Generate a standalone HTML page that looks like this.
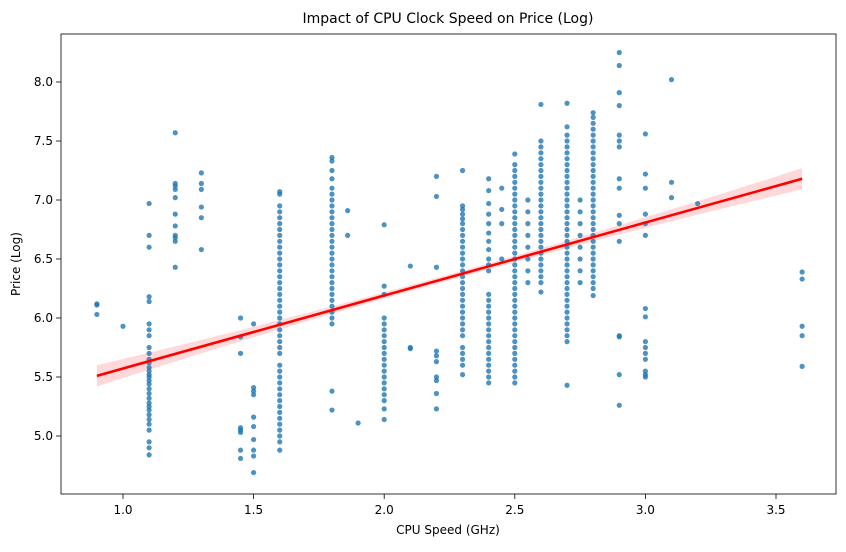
<!DOCTYPE html>
<html><head><meta charset="utf-8"><style>
body{margin:0;background:#fff;font-family:"Liberation Sans","DejaVu Sans",sans-serif}
svg text{font-family:"DejaVu Sans","Liberation Sans",sans-serif;fill:#000}
</style></head><body>
<svg id="chart" width="846" height="547" viewBox="0 0 846 547">
<text x="448" y="23" font-size="14" text-anchor="middle">Impact of CPU Clock Speed on Price (Log)</text>
<g id="band"></g><g id="pts"></g><g id="line"></g>
<rect x="61" y="34" width="775" height="460" fill="none" stroke="#000" stroke-width="0.8"/>
<g id="axes"></g>
<text x="448" y="534" font-size="12" text-anchor="middle">CPU Speed (GHz)</text>
<text x="20" y="264" font-size="12" text-anchor="middle" transform="rotate(-90 20 264)">Price (Log)</text>
</svg>
<script>
const xTicks=[1.0,1.5,2.0,2.5,3.0,3.5];
const yTicks=[5.0,5.5,6.0,6.5,7.0,7.5,8.0];
const colX=[0.9,1.0,1.1,1.2,1.3,1.45,1.5,1.6,1.8,1.86,1.9,2.0,2.1,2.2,2.3,2.4,2.45,2.5,2.55,2.6,2.7,2.75,2.8,2.9,3.0,3.1,3.2,3.6];
const colY=[
[6.12,6.11,6.03],
[5.93],
[6.97,6.70,6.60,6.18,6.14,5.95,5.90,5.85,5.75,5.70,5.65,5.62,5.58,5.55,5.52,5.50,5.47,5.44,5.40,5.36,5.32,5.28,5.25,5.22,5.18,5.14,5.10,5.05,4.95,4.90,4.84],
[7.57,7.14,7.12,7.09,7.02,6.88,6.78,6.70,6.68,6.65,6.43],
[7.23,7.14,7.09,6.94,6.85,6.58],
[6.00,5.84,5.70,5.07,5.05,5.03,4.88,4.81],
[5.95,5.41,5.38,5.35,5.16,5.08,4.97,4.88,4.83,4.69],
[7.07,7.05,6.95,6.90,6.85,6.80,6.75,6.70,6.65,6.60,6.55,6.50,6.45,6.40,6.35,6.30,6.25,6.20,6.15,6.10,6.05,6.00,5.95,5.90,5.85,5.80,5.75,5.70,5.60,5.55,5.50,5.45,5.40,5.35,5.30,5.25,5.20,5.15,5.10,5.05,5.00,4.95,4.88],
[7.36,7.33,7.25,7.18,7.10,7.05,7.00,6.95,6.90,6.85,6.80,6.75,6.70,6.65,6.60,6.55,6.50,6.45,6.40,6.35,6.30,6.25,6.20,6.15,6.10,6.05,6.00,5.95,5.38,5.22],
[6.91,6.70],
[5.11],
[6.79,6.27,6.20,6.00,5.95,5.90,5.85,5.80,5.75,5.70,5.65,5.60,5.55,5.50,5.45,5.40,5.35,5.30,5.23,5.14],
[6.44,5.75,5.74],
[7.20,7.03,6.43,5.72,5.68,5.63,5.50,5.47,5.36,5.23],
[7.25,6.95,6.92,6.88,6.84,6.80,6.75,6.70,6.65,6.60,6.55,6.50,6.45,6.40,6.35,6.30,6.25,6.20,6.15,6.10,6.05,6.00,5.95,5.90,5.85,5.75,5.70,5.65,5.60,5.52],
[7.18,7.08,6.97,6.88,6.80,6.72,6.65,6.58,6.50,6.45,6.40,6.20,6.15,6.10,6.05,6.00,5.95,5.90,5.85,5.80,5.75,5.70,5.65,5.60,5.55,5.50,5.45],
[7.10,6.92,6.80,6.50],
[7.39,7.30,7.25,7.20,7.15,7.10,7.05,7.00,6.95,6.90,6.85,6.80,6.75,6.70,6.65,6.60,6.55,6.50,6.45,6.40,6.35,6.30,6.25,6.20,6.15,6.10,6.05,6.00,5.95,5.90,5.85,5.80,5.75,5.70,5.65,5.60,5.55,5.50,5.45],
[7.00,6.90,6.80,6.70,6.60,6.50,6.40,6.30],
[7.81,7.50,7.45,7.40,7.35,7.30,7.25,7.20,7.15,7.10,7.05,7.00,6.95,6.90,6.85,6.80,6.75,6.70,6.65,6.60,6.55,6.50,6.45,6.40,6.35,6.30,6.22],
[7.82,7.62,7.55,7.50,7.45,7.40,7.35,7.30,7.25,7.20,7.15,7.10,7.05,7.00,6.95,6.90,6.85,6.80,6.75,6.70,6.65,6.60,6.55,6.50,6.45,6.40,6.35,6.30,6.25,6.20,6.15,6.10,6.05,6.00,5.95,5.90,5.85,5.80,5.43],
[7.00,6.90,6.80,6.70,6.60,6.50,6.40,6.30],
[7.74,7.70,7.65,7.60,7.55,7.50,7.45,7.40,7.35,7.30,7.25,7.20,7.15,7.10,7.05,7.00,6.95,6.90,6.85,6.80,6.75,6.70,6.65,6.60,6.55,6.50,6.45,6.40,6.35,6.30,6.25,6.19],
[8.25,8.14,7.91,7.80,7.55,7.50,7.45,7.18,7.10,6.87,6.80,6.65,5.85,5.84,5.52,5.26],
[7.56,7.22,7.10,6.88,6.80,6.70,6.08,6.01,5.80,5.75,5.70,5.65,5.55,5.52,5.50],
[8.02,7.15,7.02],
[6.97],
[6.39,6.33,5.93,5.85,5.59]];
const fitX=[0.9,3.6];
const fitY=[5.51,7.18];
const bandEnd=0.065;
const bandMid=0.025;
const NS='http://www.w3.org/2000/svg';
const sx=v=>123+(v-1.0)*261.2;
const sy=v=>436-(v-5.0)*118;
function mk(t,a,p){const e=document.createElementNS(NS,t);for(const k in a)e.setAttribute(k,a[k]);p.appendChild(e);return e;}
const axes=document.getElementById('axes');
xTicks.forEach(t=>{
 const l=mk('line',{x1:sx(t),x2:sx(t),y1:494,y2:499,stroke:'#000','stroke-width':0.8},axes);
 
 
 const tx=mk('text',{x:sx(t),y:514,'font-size':12,'text-anchor':'middle'},axes);tx.textContent=t.toFixed(1);
 
 
});
yTicks.forEach(t=>{
 const l=mk('line',{x1:56,x2:61,y1:sy(t),y2:sy(t),stroke:'#000','stroke-width':0.8},axes);
 
 
 const tx=mk('text',{x:53,y:sy(t)+4,'font-size':12,'text-anchor':'end'},axes);tx.textContent=t.toFixed(1);
 
 
});
const pts=document.getElementById('pts');
colX.forEach((x,i)=>colY[i].forEach(y=>{
 const c=mk('circle',{cx:sx(x),cy:sy(y),r:2.6,fill:'#1f77b4','fill-opacity':0.8},pts);
 
 
}));
const N=30,up=[],dn=[];
for(let k=0;k<=N;k++){const f=k/N,x=fitX[0]+(fitX[1]-fitX[0])*f,y=fitY[0]+(fitY[1]-fitY[0])*f;
 const h=bandMid+bandEnd*(2*f-1)*(2*f-1);
 up.push(sx(x)+','+sy(y+h));dn.unshift(sx(x)+','+sy(y-h));}
const b=mk('polygon',{points:up.concat(dn).join(' '),fill:'#ff0000','fill-opacity':0.15},document.getElementById('band'));


const ln=mk('line',{x1:sx(fitX[0]),y1:sy(fitY[0]),x2:sx(fitX[1]),y2:sy(fitY[1]),stroke:'#ff0000','stroke-width':2.6},document.getElementById('line'));


</script>
</body></html>
